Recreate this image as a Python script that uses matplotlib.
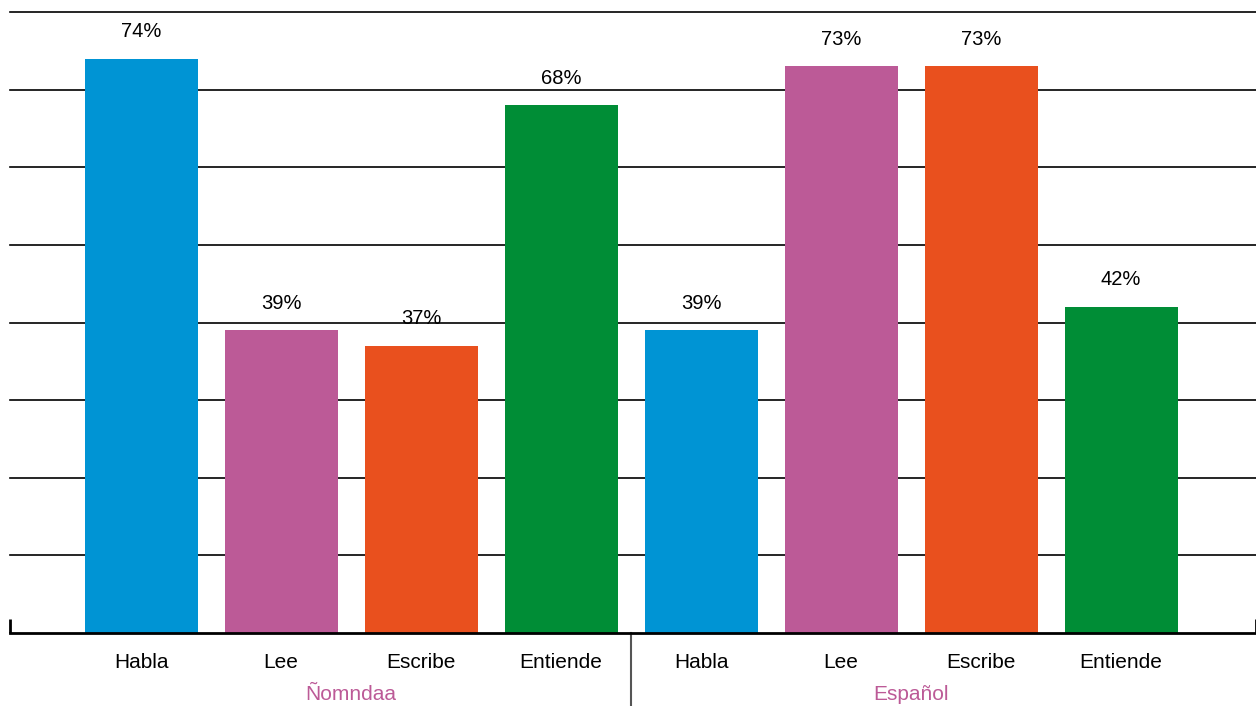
import matplotlib
matplotlib.use("Agg")
import matplotlib.pyplot as plt
import matplotlib.transforms as mtransforms

# data
groups = ["Ñomndaa", "Español"]
skills = ["Habla", "Lee", "Escribe", "Entiende"]
values_nomndaa = [74, 39, 37, 68]
values_espanol = [39, 73, 73, 42]
colors = ["#0094d4", "#bc5a97", "#e9501e", "#008d36"]
group_color = "#bc5a97"

plt.rcParams["font.family"] = ["Liberation Sans", "DejaVu Sans"]

W, H = 1256, 706
fig = plt.figure(figsize=(W / 100, H / 100), dpi=100)
ax = fig.add_axes([10 / W, 1 - 633 / H, (1256 - 10) / W, (633 - 12) / H])

values = values_nomndaa + values_espanol
xs = list(range(len(values)))
bar_colors = colors * len(groups)
ax.bar(xs, values, width=0.807, color=bar_colors, zorder=2)

for x, v in zip(xs, values):
    ax.annotate(f"{v}%", (x, v), xytext=(0, 19.5), textcoords="offset points",
                ha="center", va="center", fontsize=14.5)

ax.set_xlim(-0.936, 7.964)
ax.set_ylim(0, 80)
ax.set_yticks(range(10, 81, 10))
ax.yaxis.grid(True, color="black", linewidth=1.2)
for gl in ax.get_ygridlines():
    gl.set_clip_on(False)
ax.set_axisbelow(True)
ax.tick_params(axis="y", length=0, labelleft=False)

for s in ["top", "left", "right"]:
    ax.spines[s].set_visible(False)
ax.spines["bottom"].set_linewidth(2)

ax.set_xticks([-0.936, 7.964])
ax.set_xticklabels([])
ax.tick_params(axis="x", direction="in", length=10, width=2)

trans = mtransforms.blended_transform_factory(ax.transData, ax.transAxes)
for x, lab in zip(xs, skills * len(groups)):
    ax.annotate(lab, (x, 0), xycoords=trans, xytext=(0, -21),
                textcoords="offset points", ha="center", va="center", fontsize=15)

n = len(skills)
for gi, g in enumerate(groups):
    cx = gi * n + (n - 1) / 2
    ax.annotate(g, (cx, 0), xycoords=trans, xytext=(0, -44.5),
                textcoords="offset points", ha="center", va="center",
                fontsize=15, color=group_color)

sep_x = n - 0.5
ax.plot([sep_x, sep_x], [0, -(706 - 633) / (633 - 12)], transform=trans,
        color="#555555", linewidth=1.5, clip_on=False)

fig.savefig("out.png", dpi=100)
